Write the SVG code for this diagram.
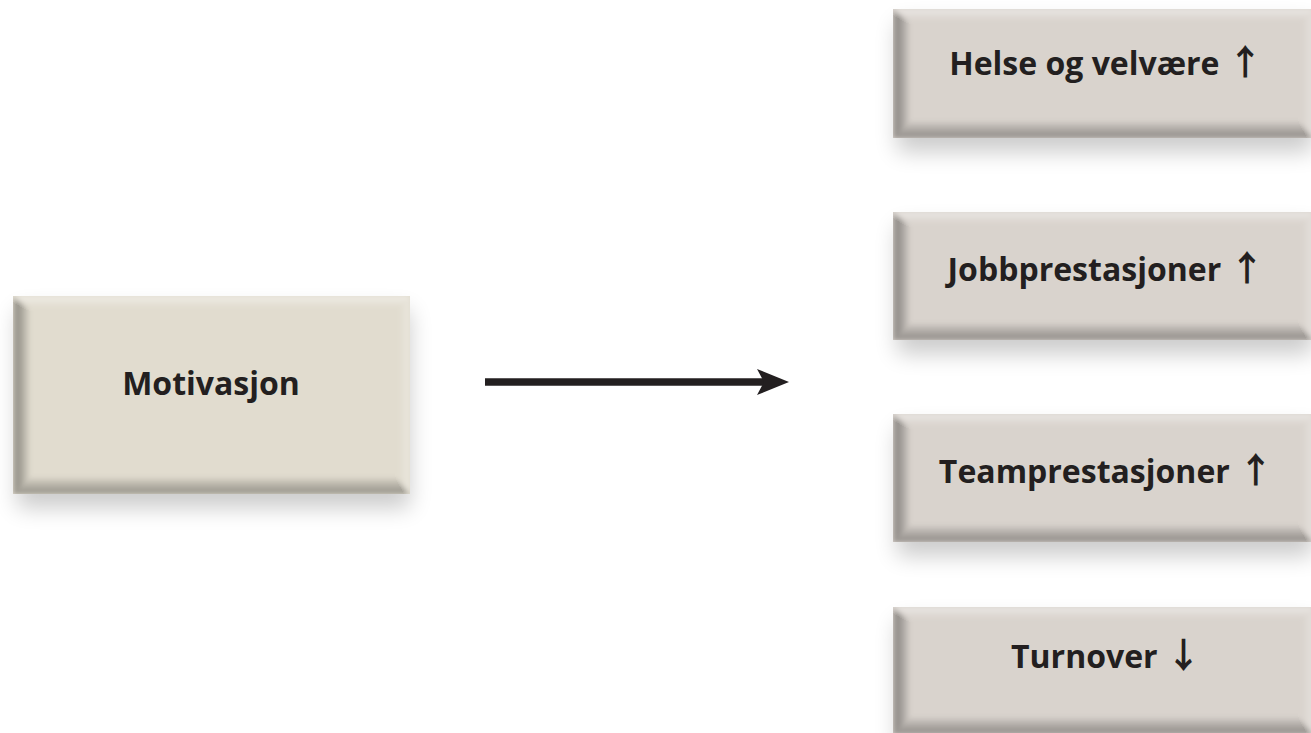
<svg xmlns="http://www.w3.org/2000/svg" width="1311" height="733" viewBox="0 0 1311 733">
  <style>
    .lbl { font-family: "Open Sans", "Noto Sans", sans-serif; font-weight: 700; font-size: 32px; fill: #231f20; text-anchor: middle; }
    .arr { font-family: "Noto Sans CJK JP", "DejaVu Sans", sans-serif; font-weight: 700; font-size: 35px; }
    .face-m { fill: #e1dccf; }
    .face-r { fill: #d9d3cd; }
    .shadow { fill: #000; opacity: 0.2; }
    .bl { fill: url(#gL); }
    .bt { fill: url(#gT); }
    .bb { fill: url(#gB); }
    .br { fill: url(#gR); }
  </style>
  <defs>
    <filter id="sh" x="-20%" y="-30%" width="140%" height="170%">
      <feGaussianBlur stdDeviation="11"/>
    </filter>
    <filter id="soft" x="-10%" y="-10%" width="120%" height="120%">
      <feGaussianBlur stdDeviation="2"/>
    </filter>
    <clipPath id="clipBox" clipPathUnits="objectBoundingBox">
      <rect x="0" y="0" width="1" height="1"/>
    </clipPath>
    <linearGradient id="gL" x1="0" y1="0" x2="1" y2="0">
      <stop offset="0" stop-color="#000" stop-opacity="0.24"/>
      <stop offset="0.3" stop-color="#000" stop-opacity="0.32"/>
      <stop offset="1" stop-color="#000" stop-opacity="0"/>
    </linearGradient>
    <linearGradient id="gT" x1="0" y1="0" x2="0" y2="1">
      <stop offset="0" stop-color="#fff" stop-opacity="0.45"/>
      <stop offset="1" stop-color="#fff" stop-opacity="0"/>
    </linearGradient>
    <linearGradient id="gB" x1="0" y1="0" x2="0" y2="1">
      <stop offset="0" stop-color="#000" stop-opacity="0"/>
      <stop offset="0.6" stop-color="#000" stop-opacity="0.22"/>
      <stop offset="1" stop-color="#000" stop-opacity="0.32"/>
    </linearGradient>
    <linearGradient id="gR" x1="0" y1="0" x2="1" y2="0">
      <stop offset="0" stop-color="#fff" stop-opacity="0"/>
      <stop offset="1" stop-color="#fff" stop-opacity="0.3"/>
    </linearGradient>
    <marker id="head" viewBox="0 0 32 26" refX="13" refY="13" markerWidth="32" markerHeight="26" markerUnits="userSpaceOnUse" orient="auto">
      <path d="M0,0 L32,13 L0,26 L7,13 Z" fill="#231f20"/>
    </marker>
  </defs>

  <rect x="0" y="0" width="1311" height="733" fill="#ffffff"/>

  <g id="node-motivasjon">
    <rect class="shadow" x="17" y="310" width="393" height="198" filter="url(#sh)"/>
    <g clip-path="url(#clipBox)">
      <rect class="face-m" x="13" y="296" width="397" height="198"/>
      <g filter="url(#soft)">
        <polygon class="bt" points="13,296 410,296 398,308 31,308"/>
        <polygon class="br" points="410,296 410,494 398,476 398,308"/>
        <polygon class="bl" points="13,296 31,308 31,476 13,494"/>
        <polygon class="bb" points="13,494 31,476 398,476 410,494"/>
      </g>
    </g>
    <text class="lbl" x="211" y="395">Motivasjon</text>
  </g>

  <g id="node-helse">
    <rect class="shadow" x="897" y="23" width="416" height="129" filter="url(#sh)"/>
    <g clip-path="url(#clipBox)">
      <rect class="face-r" x="893" y="9" width="420" height="129"/>
      <g filter="url(#soft)">
        <polygon class="bt" points="893,9 1313,9 1301,21 911,21"/>
        <polygon class="br" points="1313,9 1313,138 1301,120 1301,21"/>
        <polygon class="bl" points="893,9 911,21 911,120 893,138"/>
        <polygon class="bb" points="893,138 911,120 1301,120 1313,138"/>
      </g>
    </g>
    <text class="lbl" x="1106" y="75">Helse og velvære <tspan class="arr">↑</tspan></text>
  </g>

  <g id="node-jobb">
    <rect class="shadow" x="897" y="226" width="416" height="128" filter="url(#sh)"/>
    <g clip-path="url(#clipBox)">
      <rect class="face-r" x="893" y="212" width="420" height="128"/>
      <g filter="url(#soft)">
        <polygon class="bt" points="893,212 1313,212 1301,224 911,224"/>
        <polygon class="br" points="1313,212 1313,340 1301,322 1301,224"/>
        <polygon class="bl" points="893,212 911,224 911,322 893,340"/>
        <polygon class="bb" points="893,340 911,322 1301,322 1313,340"/>
      </g>
    </g>
    <text class="lbl" x="1106" y="281">Jobbprestasjoner <tspan class="arr">↑</tspan></text>
  </g>

  <g id="node-team">
    <rect class="shadow" x="897" y="428" width="416" height="128" filter="url(#sh)"/>
    <g clip-path="url(#clipBox)">
      <rect class="face-r" x="893" y="414" width="420" height="128"/>
      <g filter="url(#soft)">
        <polygon class="bt" points="893,414 1313,414 1301,426 911,426"/>
        <polygon class="br" points="1313,414 1313,542 1301,524 1301,426"/>
        <polygon class="bl" points="893,414 911,426 911,524 893,542"/>
        <polygon class="bb" points="893,542 911,524 1301,524 1313,542"/>
      </g>
    </g>
    <text class="lbl" x="1106" y="483">Teamprestasjoner <tspan class="arr">↑</tspan></text>
  </g>

  <g id="node-turnover">
    <rect class="shadow" x="897" y="621" width="416" height="127" filter="url(#sh)"/>
    <g clip-path="url(#clipBox)">
      <rect class="face-r" x="893" y="607" width="420" height="127"/>
      <g filter="url(#soft)">
        <polygon class="bt" points="893,607 1313,607 1301,619 911,619"/>
        <polygon class="br" points="1313,607 1313,734 1301,716 1301,619"/>
        <polygon class="bl" points="893,607 911,619 911,716 893,734"/>
        <polygon class="bb" points="893,734 911,716 1301,716 1313,734"/>
      </g>
    </g>
    <text class="lbl" x="1106" y="668">Turnover <tspan class="arr">↓</tspan></text>
  </g>

  <g id="connectors">
    <line x1="485" y1="382" x2="770" y2="382" stroke="#231f20" stroke-width="7.5" marker-end="url(#head)"/>
  </g>
</svg>
